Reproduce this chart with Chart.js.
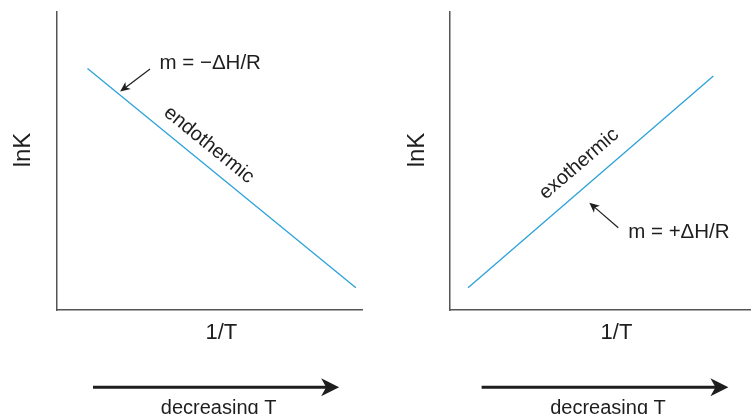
<!DOCTYPE html>
<html>
<head>
<meta charset="utf-8">
<script src="https://cdn.jsdelivr.net/npm/chart.js@4.4.1/dist/chart.umd.min.js"></script>
<style>
  body { margin: 0; background: #fff; }
  .wrap { position: relative; width: 751px; height: 414px; overflow: hidden; }
  .panel { position: absolute; top: 0; }
</style>
</head>
<body>
<div class="wrap">
  <div class="panel" style="left:0"><canvas id="endoChart" width="375" height="414"></canvas></div>
  <div class="panel" style="left:375px"><canvas id="exoChart" width="376" height="414"></canvas></div>
</div>
<script>
// line end points (x = 1/T, y = lnK, arbitrary units 0..10)
const endoInvT = [1.0, 9.8];
const endoLnK = [8.1, 0.75];
const exoInvT = [0.6, 8.75];
const exoLnK = [0.75, 7.85];

const xTitle = '1/T';
const yTitle = 'lnK';
const arrowText = 'decreasing T';
const endoText = 'endothermic';
const exoText = 'exothermic';
const endoSlope = 'm = \u2212\u0394H/R';
const exoSlope = 'm = +\u0394H/R';

const FONT = '"Liberation Sans", Arial, Helvetica, sans-serif';
const INK = '#1e1e1e';
const LINE_BLUE = '#2ba2d8';

function drawArrow(ctx, x1, y1, x2, y2, width, head, half) {
  const a = Math.atan2(y2 - y1, x2 - x1);
  const len = Math.hypot(x2 - x1, y2 - y1);
  ctx.save();
  ctx.translate(x2, y2);
  ctx.rotate(a);
  ctx.lineWidth = width;
  ctx.beginPath();
  ctx.moveTo(-len, 0);
  ctx.lineTo(-head * 0.6, 0);
  ctx.stroke();
  ctx.beginPath();
  ctx.moveTo(0, 0);
  ctx.lineTo(-head, -half);
  ctx.lineTo(-head * 0.72, 0);
  ctx.lineTo(-head, half);
  ctx.closePath();
  ctx.fill();
  ctx.restore();
}

// texts + arrows, placed in data coordinates of the chart
function notesPlugin(notes) {
  return {
    id: 'notes',
    afterDraw(chart) {
      const { ctx, scales: { x, y } } = chart;
      const px = v => x.getPixelForValue(v);
      const py = v => y.getPixelForValue(v);

      // angle of the plotted line, so the label follows it
      const d = chart.data.datasets[0].data;
      const lineAngle = Math.atan2(py(d[1].y) - py(d[0].y), px(d[1].x) - px(d[0].x));

      ctx.save();
      ctx.fillStyle = INK;
      ctx.strokeStyle = INK;

      notes.texts.forEach(t => {
        ctx.save();
        ctx.font = `${t.size}px ${FONT}`;
        ctx.textAlign = t.align || 'center';
        ctx.textBaseline = t.baseline || 'middle';
        ctx.translate(px(t.x), py(t.y));
        if (t.rot === 'line') ctx.rotate(lineAngle);
        else if (t.rot) ctx.rotate(t.rot * Math.PI / 180);
        ctx.fillText(t.text, 0, 0);
        ctx.restore();
      });

      notes.arrows.forEach(a => {
        drawArrow(ctx, px(a.from[0]), py(a.from[1]), px(a.to[0]), py(a.to[1]), a.width, a.head, a.half);
      });
      ctx.restore();
    }
  };
}

function axisScale() {
  return {
    type: 'linear',
    min: 0,
    max: 10,
    ticks: { display: false },
    grid: { display: false, drawTicks: false },
    border: { display: true, color: '#555', width: 1.5 }
  };
}

function makeChart(id, invT, lnK, padding, notes) {
  const points = invT.map((v, i) => ({ x: v, y: lnK[i] }));
  return new Chart(document.getElementById(id), {
    type: 'line',
    data: {
      datasets: [{
        data: points,
        borderColor: LINE_BLUE,
        borderWidth: 1.3,
        pointRadius: 0,
        fill: false,
        tension: 0
      }]
    },
    options: {
      responsive: false,
      animation: false,
      layout: { padding },
      plugins: { legend: { display: false }, tooltip: { enabled: false } },
      scales: { x: axisScale(), y: axisScale() }
    },
    plugins: [notesPlugin(notes)]
  });
}

makeChart('endoChart', endoInvT, endoLnK, { left: 57, top: 12, right: 13, bottom: 104 }, {
  texts: [
    { text: yTitle, x: -1.1, y: 5.37, size: 24, rot: -90 },
    { text: xTitle, x: 5.39, y: -0.77, size: 22 },
    { text: endoSlope, x: 3.36, y: 8.29, size: 20.5, align: 'left' },
    { text: endoText, x: 4.98, y: 5.54, size: 20, rot: 'line' },
    { text: arrowText, x: 5.3, y: -3.49, size: 20, baseline: 'alphabetic' }
  ],
  arrows: [
    { from: [3.05, 8.09], to: [2.07, 7.33], width: 1.2, head: 10, half: 4.5 },
    { from: [1.18, -2.59], to: [9.25, -2.59], width: 3, head: 18, half: 9 }
  ]
});

makeChart('exoChart', exoInvT, exoLnK, { left: 75, top: 12, right: 0, bottom: 104 }, {
  texts: [
    { text: yTitle, x: -1.08, y: 5.37, size: 24, rot: -90 },
    { text: xTitle, x: 5.53, y: -0.77, size: 22 },
    { text: exoSlope, x: 5.92, y: 2.62, size: 20.5, align: 'left' },
    { text: exoText, x: 4.29, y: 4.9, size: 20, rot: 'line' },
    { text: arrowText, x: 5.25, y: -3.49, size: 20, baseline: 'alphabetic' }
  ],
  arrows: [
    { from: [5.59, 2.76], to: [4.63, 3.6], width: 1.2, head: 10, half: 4.5 },
    { from: [1.05, -2.59], to: [9.25, -2.59], width: 3, head: 18, half: 9 }
  ]
});
</script>
</body>
</html>
